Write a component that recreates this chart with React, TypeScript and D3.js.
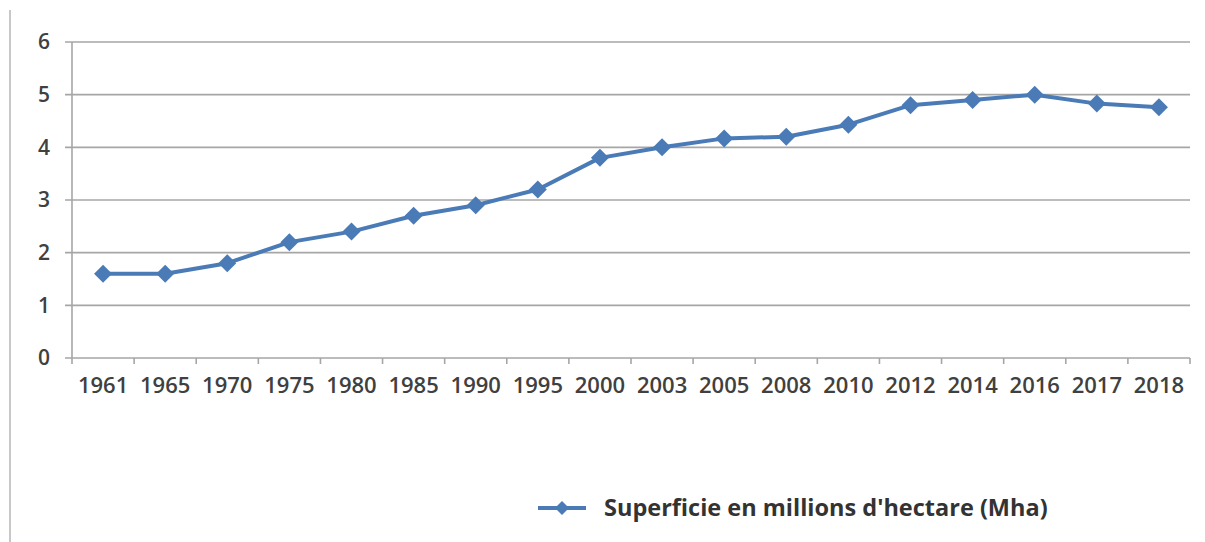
import React from "react";
import * as d3 from "d3";

const years = ["1961", "1965", "1970", "1975", "1980", "1985", "1990", "1995", "2000", "2003", "2005", "2008", "2010", "2012", "2014", "2016", "2017", "2018"];
const surface = [1.6, 1.6, 1.8, 2.2, 2.4, 2.7, 2.9, 3.2, 3.8, 4.0, 4.17, 4.2, 4.43, 4.8, 4.9, 5.0, 4.83, 4.76];
const yTicks = [0, 1, 2, 3, 4, 5, 6];
const seriesName = "Superficie en millions d'hectare (Mha)";

const W = 1205;
const H = 542;
const left = 72;
const right = 1190;
const top = 42;
const bottom = 358;
const lineColor = "#4a7bb7";
const gridColor = "#a6a6a6";
const textColor = "#404040";
const font = "'Open Sans', sans-serif";

export default function App() {
  const x = d3.scaleBand<string>().domain(years).range([left, right]);
  const y = d3.scaleLinear().domain([0, 6]).range([bottom, top]);
  const cx = (d: string) => (x(d) ?? 0) + x.bandwidth() / 2;
  const line = d3
    .line<number>()
    .x((_, i) => cx(years[i]))
    .y((v) => y(v));
  const diamond = (px: number, py: number, r: number) =>
    `M${px},${py - r}L${px + r},${py}L${px},${py + r}L${px - r},${py}Z`;

  const boundaries = years.map((d) => x(d) ?? 0).concat([right]);

  return (
    <svg
      width={W}
      height={H}
      style={{ position: "absolute", left: 0, top: 0, background: "#fff" }}
    >
      <rect x={0} y={0} width={W} height={H} fill="#fff" />
      {/* outer frame edge on the left */}
      <line x1={10} x2={10} y1={10} y2={H} stroke="#c8c8c8" strokeWidth={2} />

      {/* horizontal gridlines and y labels */}
      {yTicks.map((t) => (
        <g key={t}>
          <line x1={left - 7} x2={right} y1={y(t)} y2={y(t)} stroke={gridColor} strokeWidth={1.6} />
          <text
            x={50}
            y={y(t)}
            dy="0.35em"
            textAnchor="end"
            fontFamily={font}
            fontWeight={600}
            fontSize={21}
            fill={textColor}
          >
            {t}
          </text>
        </g>
      ))}

      {/* y axis */}
      <line x1={left} x2={left} y1={top} y2={bottom} stroke={gridColor} strokeWidth={1.6} />

      {/* x tick marks */}
      {boundaries.map((b, i) => (
        <line key={i} x1={b} x2={b} y1={bottom} y2={bottom + 6} stroke={gridColor} strokeWidth={1.6} />
      ))}

      {/* x labels */}
      {years.map((d) => (
        <text
          key={d}
          x={cx(d)}
          y={385}
          dy="0.35em"
          textAnchor="middle"
          fontFamily={font}
          fontWeight={600}
          fontSize={22}
          fill={textColor}
        >
          {d}
        </text>
      ))}

      {/* series */}
      <path d={line(surface) ?? ""} fill="none" stroke={lineColor} strokeWidth={4} strokeLinejoin="round" />
      {surface.map((v, i) => (
        <path key={i} d={diamond(cx(years[i]), y(v), 9)} fill={lineColor} />
      ))}

      {/* legend */}
      <line x1={538} x2={586} y1={508} y2={508} stroke={lineColor} strokeWidth={4} />
      <path d={diamond(562, 508, 7)} fill={lineColor} />
      <text
        x={604}
        y={508}
        dy="0.35em"
        fontFamily={font}
        fontWeight={700}
        fontSize={23.5}
        fill="#333"
      >
        {seriesName}
      </text>
    </svg>
  );
}
